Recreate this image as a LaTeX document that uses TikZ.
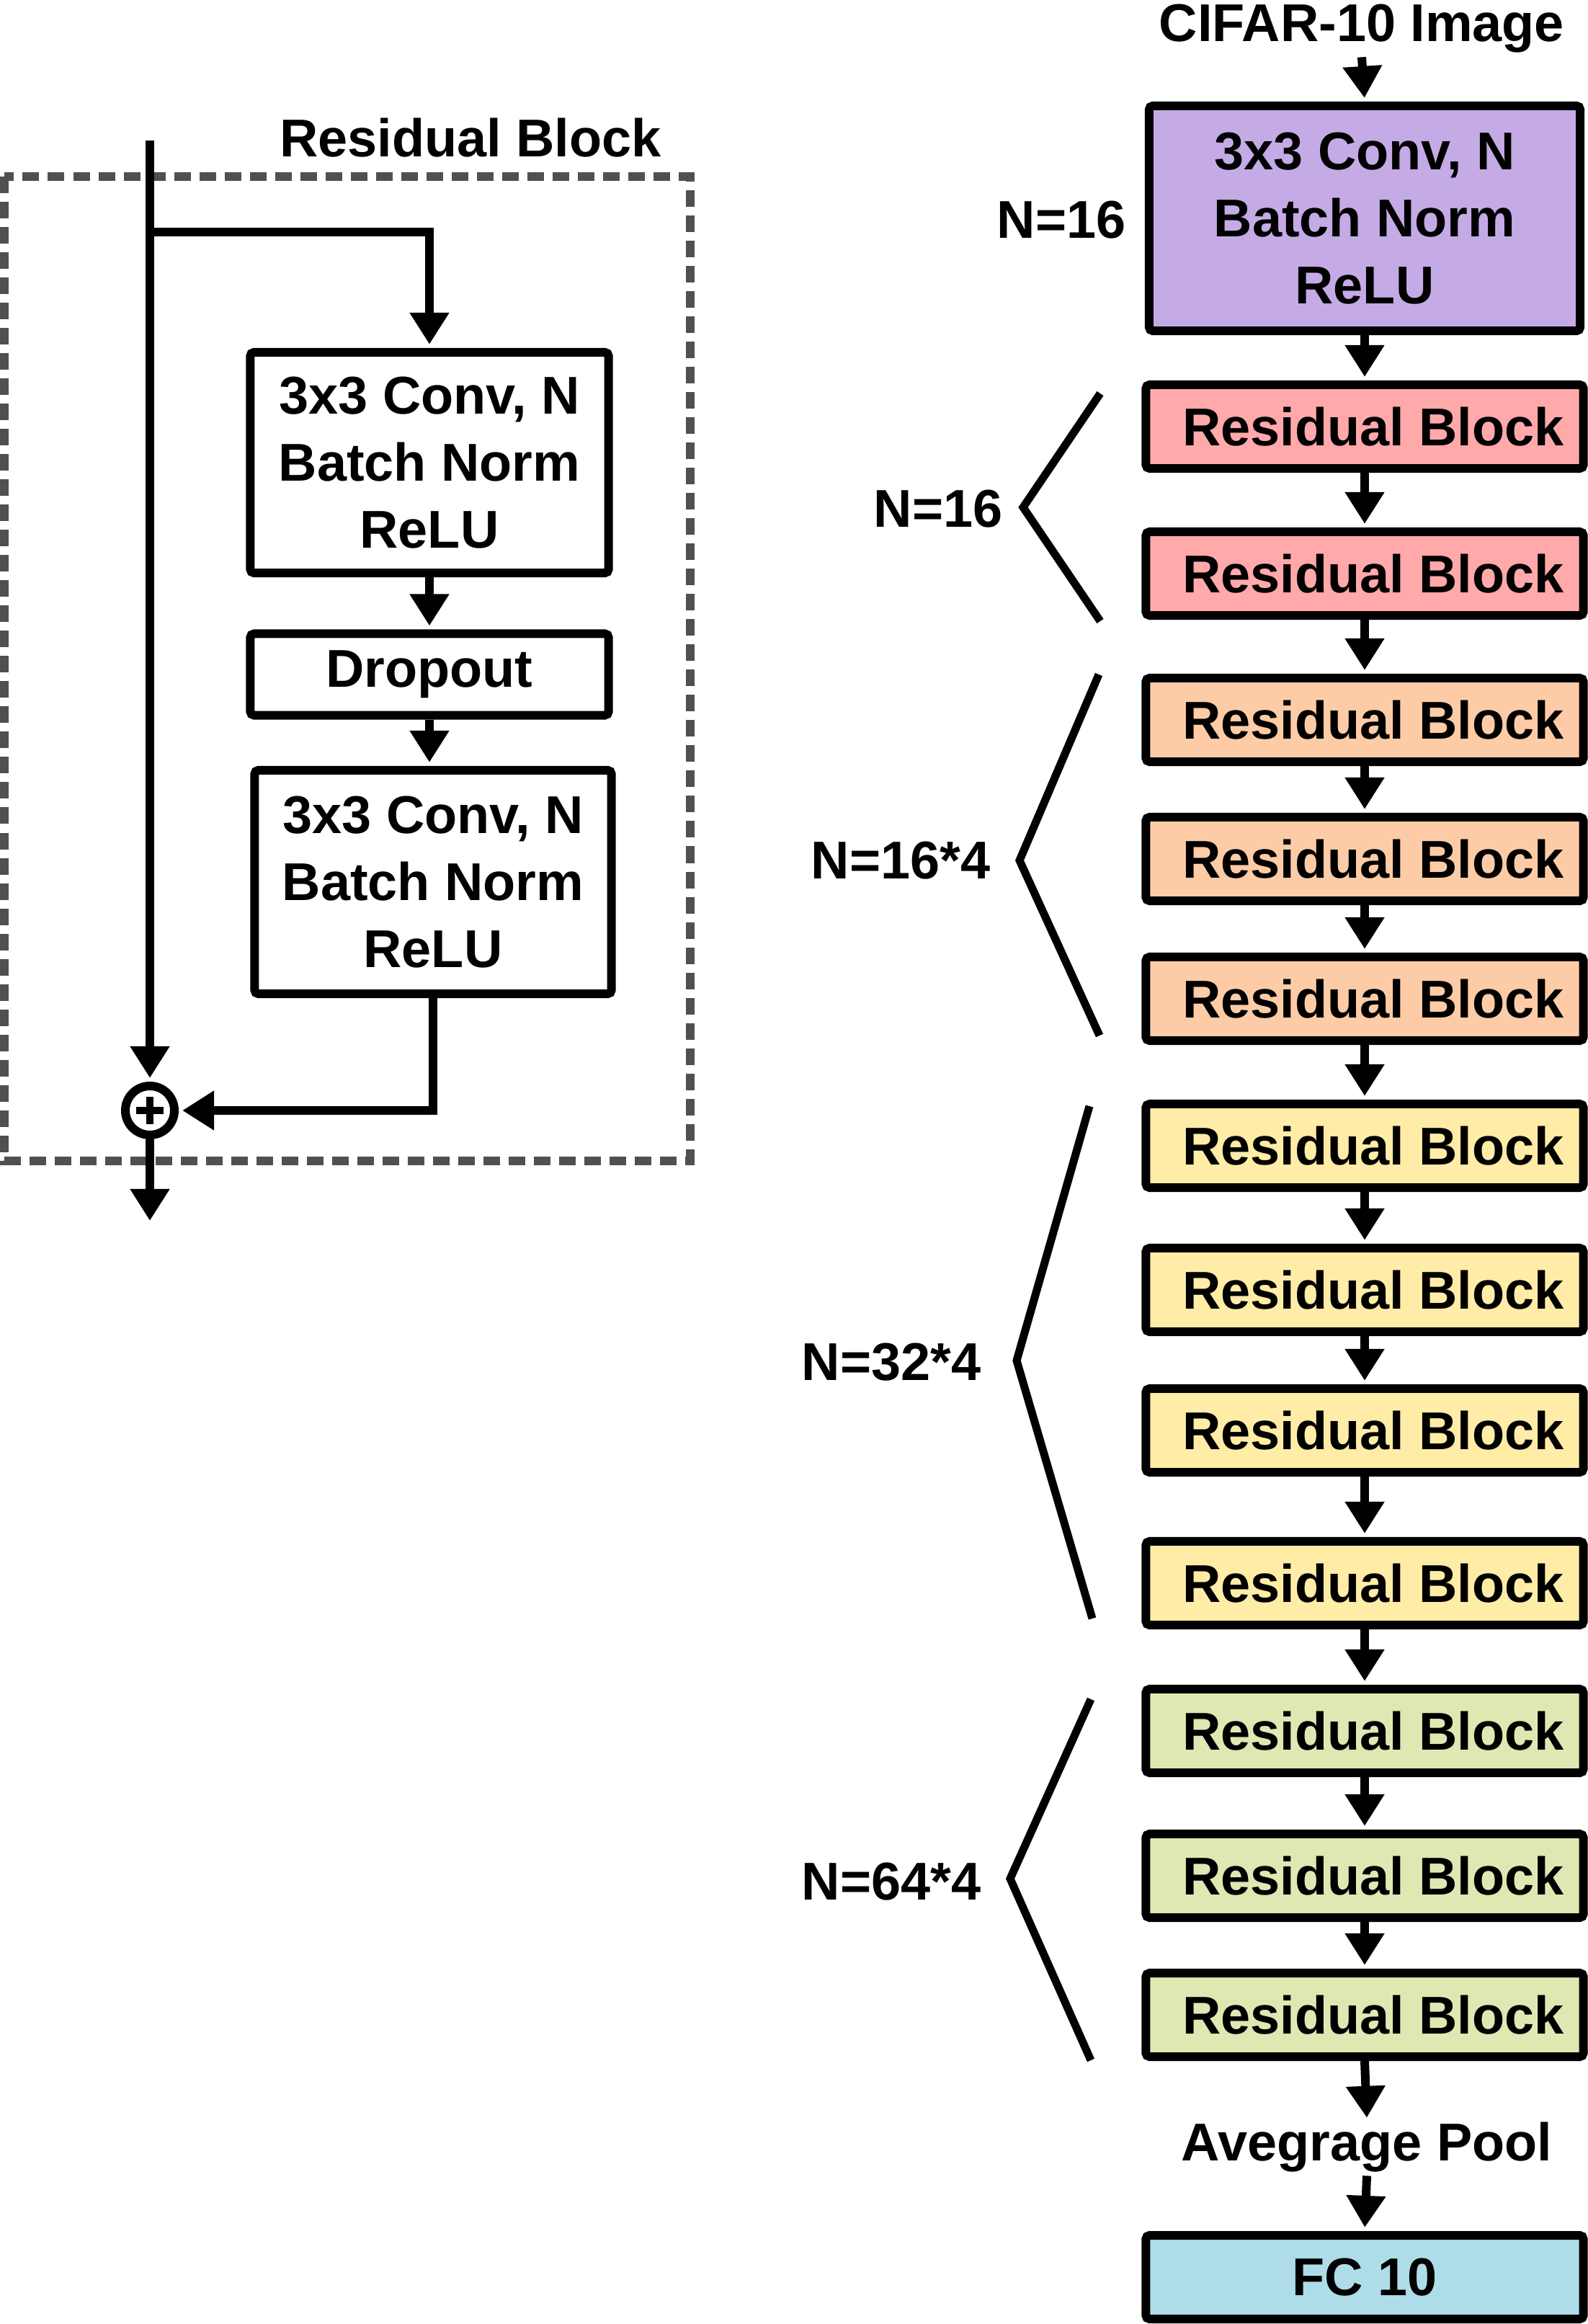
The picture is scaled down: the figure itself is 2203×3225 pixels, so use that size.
\documentclass[tikz,border=0pt]{standalone}
\usepackage{fontspec}
\setmainfont{Liberation Sans}
\usetikzlibrary{arrows.meta}
\definecolor{cpurple}{HTML}{C5ABE5}
\definecolor{cpink}{HTML}{FFA9AA}
\definecolor{corange}{HTML}{FDCCA7}
\definecolor{cyellow}{HTML}{FFECA7}
\definecolor{cgreen}{HTML}{DFE8B2}
\definecolor{cblue}{HTML}{AEDDE9}
\definecolor{cdash}{HTML}{505050}
\newcommand{\rbtext}{\hspace*{0.24cm}Residual Block}
\begin{document}
\begin{tikzpicture}[x=0.01cm,y=-0.01cm,
  font=\fontsize{21pt}{26.5pt}\selectfont\bfseries,
  box/.style={draw,line width=0.12cm,rounded corners=1.5pt,inner sep=0pt,align=center},
  rb/.style={box,minimum width=6.07cm,minimum height=1.16cm},
  arr/.style={line width=0.12cm,-{Triangle[width=0.52cm,length=0.44cm]},shorten >=0.05cm},
  lbl/.style={anchor=base,inner sep=0.05cm},
  brk/.style={line width=0.11cm,line join=miter},
  dbox/.style={draw=cdash,line width=0.12cm,dash pattern=on 0.23cm off 0.12cm}
]
\useasboundingbox (0,0) rectangle (2203,3225);

% ---------------- left: residual block detail ----------------
\draw[dbox] (6,245) rectangle (958,1611);
\node[lbl] (rbtitle) at (653,218) {Residual Block};

\node[box,minimum width=4.97cm,minimum height=3.06cm] (b1) at (596,642) {3x3 Conv, N\\Batch Norm\\ReLU};
\node[box,minimum width=4.97cm,minimum height=1.13cm] (drop) at (596,936) {Dropout};
\node[box,minimum width=4.95cm,minimum height=3.10cm] (b3) at (601,1224) {3x3 Conv, N\\Batch Norm\\ReLU};
\node[draw,circle,line width=0.12cm,minimum size=0.68cm,inner sep=0pt] (op) at (208,1541) {};
\draw[line width=0.1cm] ([xshift=-0.19cm]op.center) -- ([xshift=0.19cm]op.center);
\draw[line width=0.1cm] ([yshift=-0.19cm]op.center) -- ([yshift=0.19cm]op.center);

\coordinate (in) at (208,195);
\coordinate (br) at (208,322);
\coordinate (out) at (208,1694);
\draw[arr] (in) -- (op.north);
\draw[arr] (br) -| (b1.north);
\draw[arr] (b1.south) -- (drop.north);
\draw[arr] (drop.south) -- (drop.south |- b3.north);
\draw[arr] (b3.south) |- (op.east);
\draw[arr,shorten >=0pt] (op.south) -- (out);

% ---------------- right: network ----------------
\node[lbl] (cifar) at (1890,58) {CIFAR-10 Image};
\node[box,fill=cpurple,minimum width=5.98cm,minimum height=3.12cm] (conv) at (1894,303) {3x3 Conv, N\\Batch Norm\\ReLU};

\node[rb,fill=cpink]   (r1)  at (1894,592)  {\rbtext};
\node[rb,fill=cpink]   (r2)  at (1894,796)  {\rbtext};
\node[rb,fill=corange] (r3)  at (1894,999)  {\rbtext};
\node[rb,fill=corange] (r4)  at (1894,1192) {\rbtext};
\node[rb,fill=corange] (r5)  at (1894,1386) {\rbtext};
\node[rb,fill=cyellow] (r6)  at (1894,1590) {\rbtext};
\node[rb,fill=cyellow] (r7)  at (1894,1790) {\rbtext};
\node[rb,fill=cyellow] (r8)  at (1894,1985) {\rbtext};
\node[rb,fill=cyellow] (r9)  at (1894,2197) {\rbtext};
\node[rb,fill=cgreen]  (r10) at (1894,2402) {\rbtext};
\node[rb,fill=cgreen]  (r11) at (1894,2603) {\rbtext};
\node[rb,fill=cgreen]  (r12) at (1894,2796) {\rbtext};
\node[lbl] (pool) at (1897,2998) {Avegrage Pool};
\node[rb,fill=cblue]   (fc)  at (1894,3160) {FC 10};

\draw[arr] (cifar.south) -- (conv.north);
\draw[arr] (conv.south) -- (r1.north);
\foreach \a/\b in {r1/r2,r2/r3,r3/r4,r4/r5,r5/r6,r6/r7,r7/r8,r8/r9,r9/r10,r10/r11,r11/r12}
  \draw[arr] (\a.south) -- (\b.north);
\draw[arr,shorten >=0pt] (r12.south) -- (pool.north);
\draw[arr] (pool.south) -- (fc.north);

% labels and brackets
\node[lbl] (n0) at (1473,331) {N=16};
\node[lbl] (n1) at (1302,732) {N=16};
\node[lbl] (n2) at (1250,1219) {N=16*4};
\node[lbl] (n3) at (1237,1915) {N=32*4};
\node[lbl] (n4) at (1237,2636) {N=64*4};

\draw[brk] (1527,546) -- (1420,704) -- (1527,862);
\draw[brk] (1525,936) -- (1415,1194) -- (1526,1437);
\draw[brk] (1512,1535) -- (1411,1888) -- (1516,2246);
\draw[brk] (1514,2358) -- (1402,2607) -- (1514,2859);
\end{tikzpicture}
\end{document}
